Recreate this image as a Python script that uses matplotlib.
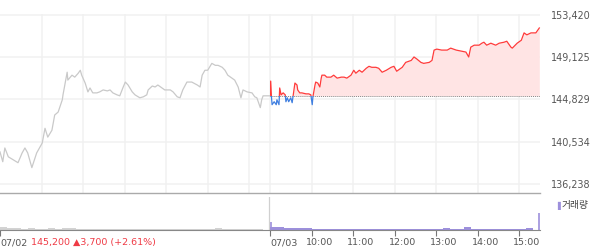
import numpy as np
import matplotlib.pyplot as plt
from matplotlib.patches import Rectangle
from matplotlib.transforms import ScaledTranslation

# previous day (07/02), minutes after 09:00 and price
t1 = [0, 4, 7, 12, 19, 26, 32, 36, 40, 46, 53, 61, 65, 69, 75, 79, 84, 90, 91, 97,
      98, 104, 108, 113, 116, 118, 123, 127, 130, 134, 140, 144, 149, 155, 159, 163,
      169, 173, 178, 181, 185, 191, 195, 202, 207, 212, 214, 220, 224, 228, 234, 238,
      246, 250, 256, 260, 264, 270, 277, 285, 289, 292, 296, 300, 306, 311, 315, 321,
      325, 329, 335, 339, 344, 348, 351, 357, 364, 368, 371, 376, 378, 380, 390]
p1 = [139500, 138500, 139900, 139000, 138700, 138400, 139400, 139900, 139400, 137900,
      139400, 140400, 141900, 141000, 141700, 143250, 143550, 144800, 145300, 147600,
      146800, 147300, 147100, 147500, 147800, 147300, 146500, 145600, 146000, 145500,
      145500, 145600, 145800, 145700, 145800, 145500, 145300, 145200, 146100, 146600,
      146300, 145600, 145300, 145000, 145100, 145300, 145800, 146200, 146100, 146300,
      146000, 145800, 145800, 145600, 145100, 145000, 145800, 146600, 146600, 146300,
      146100, 147300, 147800, 147800, 148500, 148300, 148300, 148100, 147800, 147300,
      147000, 146800, 146100, 145000, 145800, 145600, 145500, 145100, 145000, 144000,
      144800, 145200, 145200]

# today (07/03), minutes after 09:00 and price
t2 = [0, 1, 2, 3, 6, 9, 10, 13, 14, 16, 19, 22, 23, 25, 27, 30, 32, 33, 36, 39, 40,
      43, 46, 52, 56, 59, 61, 62, 65, 66, 69, 72, 74, 75, 79, 82, 88, 92, 97, 103, 107,
      111, 117, 121, 124, 129, 133, 139, 143, 147, 153, 157, 162, 168, 175, 179, 183,
      191, 196, 204, 208, 212, 218, 222, 230, 234, 237, 241, 248, 256, 261, 269, 276,
      283, 287, 290, 295, 302, 306, 309, 313, 319, 326, 331, 338, 342, 348, 350, 357,
      363, 367, 371, 377, 384, 389]
p2 = [145200, 146700, 145200, 144300, 144600, 144300, 144800, 144300, 146000, 145300,
      145500, 145300, 144600, 145000, 144600, 145000, 144500, 145000, 146500, 146300,
      145800, 145500, 145500, 145400, 145400, 145300, 144300, 145100, 146300, 146600,
      146500, 146100, 147000, 147300, 147300, 147100, 147100, 147300, 147000, 147100,
      147100, 147000, 147300, 147800, 147500, 147800, 147600, 148000, 148200, 148100,
      148100, 148000, 147600, 147800, 148100, 148200, 147700, 148100, 148600, 148800,
      149150, 148950, 148600, 148500, 148600, 148800, 149850, 149950, 149850, 149850,
      150050, 149850, 149750, 149650, 149150, 150150, 150350, 150350, 150550, 150650,
      150350, 150550, 150350, 150550, 150650, 150750, 150150, 150050, 150550, 150850,
      151600, 151400, 151600, 151600, 152100]

base = 145200
price_ticks = [136238, 140534, 144829, 149125, 153420]

# volume, 10 minute steps (relative units)
vol1 = [10, 6, 5, 4, 5, 3, 4, 6, 4, 6, 5, 4, 3, 4, 3, 3, 4, 3, 3, 4, 3, 3, 4, 3, 3,
        3, 4, 4, 3, 3, 4, 6, 4, 3, 3, 4, 4, 3, 6]
vol2 = [10, 9, 7, 6, 5, 6, 4, 4, 3, 3, 4, 3, 4, 3, 3, 3, 3, 3, 3, 3, 3, 3, 4, 3, 3,
        6, 3, 3, 9, 3, 3, 4, 3, 3, 4, 3, 4, 6, 3]
vol_open = 24
vol_close = 52

x_ticks = [0, 390, 450, 510, 570, 630, 690, 750]
x_labels = ['07/02', '07/03', '10:00', '11:00', '12:00', '13:00', '14:00', '15:00']

red = '#ff3b3b'
blue = '#3f7fe0'
grey_line = '#c9c9c9'
purple = '#9d90dc'
grid = '#f1f1f1'
txt = '#555555'

x1 = np.array(t1)
x2 = np.array(t2) + 390
p2 = np.array(p2)

fig = plt.figure(figsize=(6, 2.48), dpi=100)
ax = fig.add_axes([0, 1 - 193 / 248, 0.9, 179 / 248])
vax = fig.add_axes([0, 1 - 230 / 248, 0.9, 33 / 248])

# price panel
ax.set_xlim(0, 780)
ax.set_ylim(135320, 153520)
for h in list(range(60, 390, 60)) + list(range(390, 780, 60)):
    ax.axvline(h, color=grid, lw=1.1, zorder=0)
for pt in price_ticks:
    ax.axhline(pt, color=grid, lw=1.1, zorder=0)

ax.plot(x1, p1, color=grey_line, lw=0.9)

up_clip = Rectangle((390, base), 400, 30000, transform=ax.transData)
dn_clip = Rectangle((390, base - 30000), 400, 30000, transform=ax.transData)
fill = ax.fill_between(x2, p2, base, color='#ffe4e4', lw=0, zorder=1)
fill.set_clip_path(up_clip)
ax.hlines(base, 390, 780, colors='#888888', linestyles=(0, (1, 1)), lw=0.7, zorder=2)
l_up, = ax.plot(x2, p2, color=red, lw=0.9, zorder=3)
l_up.set_clip_path(up_clip)
l_dn, = ax.plot(x2, p2, color=blue, lw=0.9, zorder=3)
l_dn.set_clip_path(dn_clip)

ax.yaxis.tick_right()
ax.set_yticks(price_ticks, [f'{v:,}' for v in price_ticks])
ax.tick_params(axis='y', length=0, pad=8, labelsize=6.9, labelcolor=txt)
ax.set_xticks([])
for s in ['top', 'left', 'right']:
    ax.spines[s].set_visible(False)
ax.spines['bottom'].set_color('#aaaaaa')
ax.spines['bottom'].set_linewidth(1.0)

# volume panel
vax.set_xlim(0, 780)
vax.set_ylim(0, 100)
steps = np.arange(0, 390, 10)
vax.fill_between(steps, vol1, step='post', color='#d3d3d3', lw=0)
vax.fill_between(steps + 390, vol2, step='post', color=purple, lw=0)
vax.axvline(389, color='#d0d0d0', lw=0.9)
vax.vlines([391], 0, vol_open, color=purple, lw=1.2)
vax.vlines([779], 0, vol_close, color=purple, lw=1.2)
for s in ['top', 'left', 'right']:
    vax.spines[s].set_visible(False)
vax.spines['bottom'].set_color('#888888')
vax.set_yticks([])
vax.set_xticks(x_ticks, x_labels)
vax.tick_params(axis='x', length=4, width=0.8, color='#777777', pad=2,
                labelsize=6.8, labelcolor=txt)
for lab in vax.get_xticklabels():
    lab.set_ha('left')
    if ':' in lab.get_text():
        lab.set_transform(lab.get_transform() + ScaledTranslation(-6 / 100, 0, fig.dpi_scale_trans))

fig.text(31 / 600, 1 - 242 / 248, '145,200 \u25b23,700 (+2.61%)', color='#ef3a45',
         fontsize=6.8, va='center', ha='left')
fig.text(557 / 600, 1 - 205 / 248, '\u258c', color=purple, fontsize=5.5, va='center')
fig.text(562 / 600, 1 - 205 / 248, '거래량', color='#444444', fontsize=7, va='center',
         family=['Noto Sans CJK KR', 'DejaVu Sans'])

fig.savefig('out.png', dpi=100)
